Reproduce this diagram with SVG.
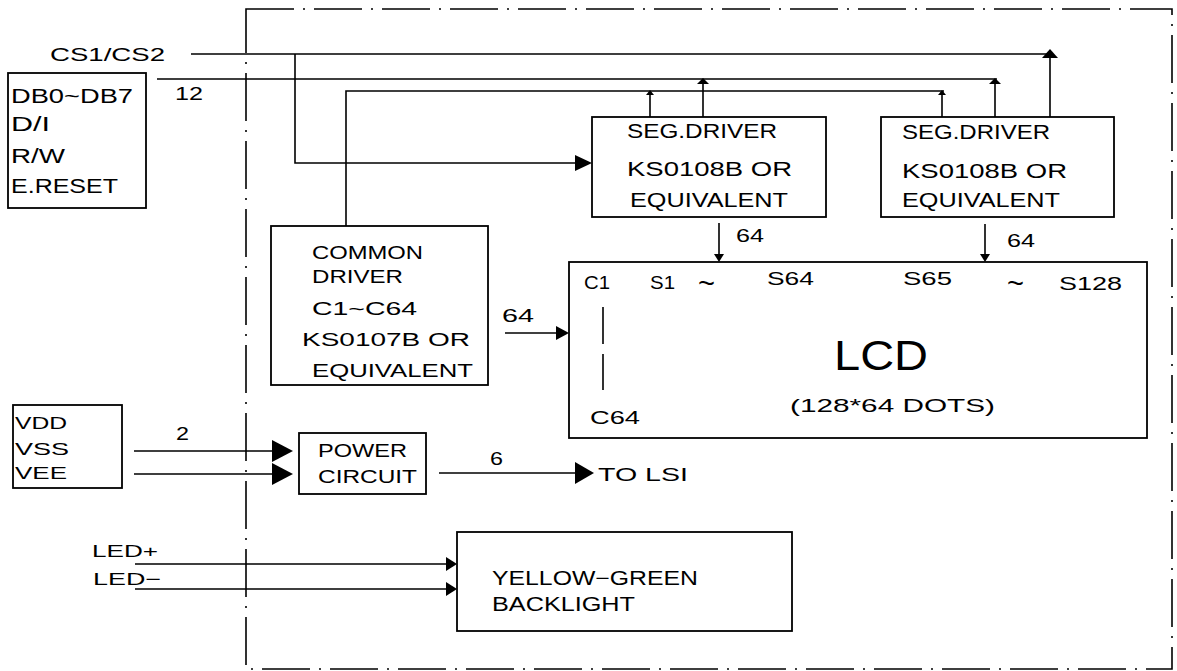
<svg xmlns="http://www.w3.org/2000/svg" width="1177" height="671" viewBox="0 0 1177 671">
<style>
.bg{fill:#ffffff}
.box{fill:none;stroke:#000;stroke-width:1.8}
.ln{fill:none;stroke:#000;stroke-width:1.6}
.ah{fill:#000;stroke:none}
.frame{fill:none;stroke:#000;stroke-width:1.6;stroke-dasharray:48 9 2 9}
text{font-family:"Liberation Sans","DejaVu Sans",Arial,sans-serif;fill:#000;font-size:19px}
.s17{font-size:17px}
.s20{font-size:20px}
.tl{font-size:28px}
.big{font-size:42px;font-weight:300}
</style>
<rect class="bg" x="0" y="0" width="1177" height="671"/>
<g id="module-frame">
<rect class="frame" x="246" y="9" width="926" height="660"/>
</g>
<g id="connectors">
<path class="ln" d="M191,54 H1052 M1050,117 V56"/>
<path class="ln" d="M295,54 V163 H576"/>
<path class="ln" d="M157,79 H997 M703,117 V82 M995,117 V82"/>
<path class="ln" d="M346,226 V91 H944 M650,117 V93 M942,117 V93"/>
<path class="ln" d="M719,223 V256 M985,224 V256"/>
<path class="ln" d="M505,333 H558"/>
<path class="ln" d="M603,307 V344 M603,354 V390"/>
<path class="ln" d="M134,451 H273 M134,474 H273"/>
<path class="ln" d="M439,473 H576"/>
<path class="ln" d="M135,564 H448 M135,589 H448"/>
<polygon class="ah" points="1050,49 1042,58 1058,58"/>
<polygon class="ah" points="703,78 697,84 709,84"/>
<polygon class="ah" points="995,78 989,84 1001,84"/>
<polygon class="ah" points="650,90 646,95 654,95"/>
<polygon class="ah" points="942,90 938,95 946,95"/>
<polygon class="ah" points="592,163 575,155 575,171"/>
<polygon class="ah" points="569,333 556,326 556,340"/>
<polygon class="ah" points="719,262 714,254 724,254"/>
<polygon class="ah" points="985,262 980,254 990,254"/>
<polygon class="ah" points="293,451 272,440 272,462"/>
<polygon class="ah" points="293,474 272,463 272,485"/>
<polygon class="ah" points="594,473 575,462 575,484"/>
<polygon class="ah" points="457,564 446,557 446,571"/>
<polygon class="ah" points="457,589 446,582 446,596"/>
<text x="50" y="61" textLength="115" lengthAdjust="spacingAndGlyphs">CS1/CS2</text>
<text x="175" y="100" textLength="28" lengthAdjust="spacingAndGlyphs">12</text>
<text x="736" y="242" textLength="28" lengthAdjust="spacingAndGlyphs">64</text>
<text x="1007" y="247" textLength="28" lengthAdjust="spacingAndGlyphs">64</text>
<text x="502" y="322" textLength="32" lengthAdjust="spacingAndGlyphs">64</text>
<text x="176" y="440" textLength="13" lengthAdjust="spacingAndGlyphs">2</text>
<text x="490" y="465" textLength="13" lengthAdjust="spacingAndGlyphs">6</text>
<text x="598" y="481" textLength="90" lengthAdjust="spacingAndGlyphs">TO LSI</text>
<text x="92" y="557" class="s17" textLength="66" lengthAdjust="spacingAndGlyphs">LED+</text>
<text x="93" y="585" class="s17" textLength="68" lengthAdjust="spacingAndGlyphs">LED−</text>
</g>
<g id="mpu-inputs">
<rect class="box" x="8" y="73" width="138" height="135"/>
<text x="11" y="103" class="s20" textLength="122" lengthAdjust="spacingAndGlyphs">DB0~DB7</text>
<text x="11" y="131" class="s20" textLength="39" lengthAdjust="spacingAndGlyphs">D/I</text>
<text x="11" y="163" class="s20" textLength="54" lengthAdjust="spacingAndGlyphs">R/W</text>
<text x="11" y="193" class="s20" textLength="107" lengthAdjust="spacingAndGlyphs">E.RESET</text>
</g>
<g id="seg-driver-1">
<rect class="box" x="592" y="117" width="234" height="100"/>
<text x="627" y="138" class="s20" textLength="150" lengthAdjust="spacingAndGlyphs">SEG.DRIVER</text>
<text x="627" y="176" class="s20" textLength="165" lengthAdjust="spacingAndGlyphs">KS0108B  OR</text>
<text x="630" y="207" class="s20" textLength="158" lengthAdjust="spacingAndGlyphs">EQUIVALENT</text>
</g>
<g id="seg-driver-2">
<rect class="box" x="881" y="117" width="233" height="100"/>
<text x="902" y="139" class="s20" textLength="148" lengthAdjust="spacingAndGlyphs">SEG.DRIVER</text>
<text x="902" y="178" class="s20" textLength="165" lengthAdjust="spacingAndGlyphs">KS0108B  OR</text>
<text x="902" y="207" class="s20" textLength="158" lengthAdjust="spacingAndGlyphs">EQUIVALENT</text>
</g>
<g id="common-driver">
<rect class="box" x="271" y="226" width="217" height="159"/>
<text x="312" y="259" textLength="111" lengthAdjust="spacingAndGlyphs">COMMON</text>
<text x="312" y="283" textLength="91" lengthAdjust="spacingAndGlyphs">DRIVER</text>
<text x="312" y="315" textLength="105" lengthAdjust="spacingAndGlyphs">C1~C64</text>
<text x="302" y="346" textLength="168" lengthAdjust="spacingAndGlyphs">KS0107B  OR</text>
<text x="312" y="377" textLength="161" lengthAdjust="spacingAndGlyphs">EQUIVALENT</text>
</g>
<g id="lcd">
<rect class="box" x="569" y="262" width="578" height="176"/>
<text x="584" y="289" textLength="26" lengthAdjust="spacingAndGlyphs">C1</text>
<text x="650" y="289" textLength="25" lengthAdjust="spacingAndGlyphs">S1</text>
<text x="698" y="293" class="tl" textLength="17" lengthAdjust="spacingAndGlyphs">~</text>
<text x="767" y="285" textLength="47" lengthAdjust="spacingAndGlyphs">S64</text>
<text x="903" y="285" textLength="49" lengthAdjust="spacingAndGlyphs">S65</text>
<text x="1007" y="293" class="tl" textLength="17" lengthAdjust="spacingAndGlyphs">~</text>
<text x="1059" y="290" textLength="63" lengthAdjust="spacingAndGlyphs">S128</text>
<text x="590" y="424" textLength="50" lengthAdjust="spacingAndGlyphs">C64</text>
<text x="834" y="370" class="big" textLength="94" lengthAdjust="spacingAndGlyphs">LCD</text>
<text x="790" y="412" textLength="205" lengthAdjust="spacingAndGlyphs">(128*64 DOTS)</text>
</g>
<g id="power-inputs">
<rect class="box" x="13" y="405" width="109" height="83"/>
<text x="15" y="429" class="s17" textLength="52" lengthAdjust="spacingAndGlyphs">VDD</text>
<text x="15" y="455" class="s17" textLength="54" lengthAdjust="spacingAndGlyphs">VSS</text>
<text x="15" y="479" class="s17" textLength="52" lengthAdjust="spacingAndGlyphs">VEE</text>
</g>
<g id="power-circuit">
<rect class="box" x="299" y="433" width="127" height="61"/>
<text x="318" y="457" textLength="89" lengthAdjust="spacingAndGlyphs">POWER</text>
<text x="318" y="483" textLength="99" lengthAdjust="spacingAndGlyphs">CIRCUIT</text>
</g>
<g id="backlight">
<rect class="box" x="457" y="532" width="335" height="99"/>
<text x="492" y="585" class="s20" textLength="206" lengthAdjust="spacingAndGlyphs">YELLOW−GREEN</text>
<text x="492" y="611" class="s20" textLength="143" lengthAdjust="spacingAndGlyphs">BACKLIGHT</text>
</g>
</svg>
